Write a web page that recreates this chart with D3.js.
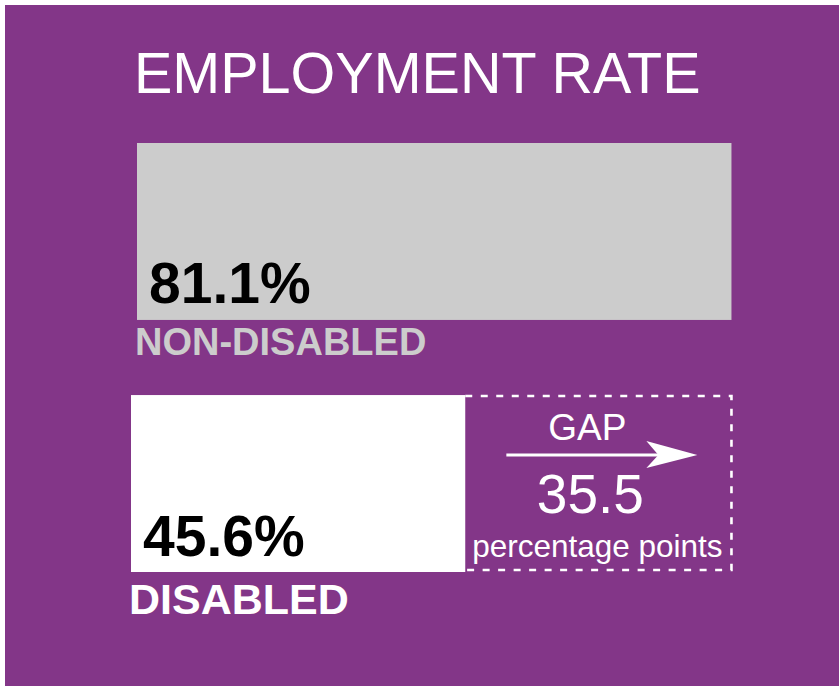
<!DOCTYPE html>
<html>
<head>
<meta charset="utf-8">
<script src="https://cdn.jsdelivr.net/npm/d3@7"></script>
<style>
  body { margin: 0; background: #fff; }
  svg { display: block; font-family: "Liberation Sans", Arial, sans-serif; }
</style>
</head>
<body>
<svg id="chart" width="839" height="686"></svg>
<script>
// data
var categories = ["NON-DISABLED", "DISABLED"];
var rates = [81.1, 45.6];
var title = "EMPLOYMENT RATE";
var gapLabel = "GAP";
var gapUnit = "percentage points";

var purple = "#833688";
var barColors = ["#cccccc", "#ffffff"];
var labelColors = ["#cccccc", "#ffffff"];
var rowStart = [137, 131];
var catSize = [38, 43];

var svg = d3.select("#chart");

// background panel
svg.append("rect")
  .attr("x", 5).attr("y", 5)
  .attr("width", 834).attr("height", 681)
  .attr("fill", purple);

svg.append("text")
  .attr("x", 134).attr("y", 93)
  .attr("fill", "#fff")
  .attr("font-size", 57.5)
  .text(title);

var x = d3.scaleLinear().domain([0, 100]).range([0, 733]);
var y = d3.scaleBand().domain(categories).range([143, 572]).paddingInner(0.298);

var rows = svg.selectAll("g.row")
  .data(categories)
  .enter().append("g")
  .attr("class", "row");

rows.append("rect")
  .attr("x", function(d, i) { return rowStart[i]; })
  .attr("y", function(d) { return y(d); })
  .attr("width", function(d, i) { return x(rates[i]); })
  .attr("height", y.bandwidth())
  .attr("fill", function(d, i) { return barColors[i]; });

rows.append("text")
  .attr("x", function(d, i) { return rowStart[i] + 12; })
  .attr("y", function(d, i) { return y(d) + y.bandwidth() - (i == 0 ? 17 : 16); })
  .attr("font-size", 57)
  .attr("font-weight", "bold")
  .attr("fill", "#000")
  .text(function(d, i) { return rates[i].toFixed(1) + "%"; });

rows.append("text")
  .attr("x", function(d, i) { return rowStart[i] - 2; })
  .attr("y", function(d, i) { return y(d) + y.bandwidth() + (i == 0 ? 35 : 42); })
  .attr("font-size", function(d, i) { return catSize[i]; })
  .attr("font-weight", "bold")
  .attr("fill", function(d, i) { return labelColors[i]; })
  .text(function(d) { return d; });

// gap box between the two bar ends
var gapLeft = rowStart[1] + x(rates[1]);
var gapRight = rowStart[0] + x(rates[0]);
var gapTop = y(categories[1]) + 1;
var gapBottom = y(categories[1]) + y.bandwidth() - 2;
var mid = (gapLeft + gapRight) / 2;

svg.append("path")
  .attr("d", "M" + gapLeft + "," + gapTop + "H" + gapRight + "V" + gapBottom + "H" + gapLeft)
  .attr("fill", "none")
  .attr("stroke", "#fff")
  .attr("stroke-width", 2.6)
  .attr("stroke-dasharray", "7,8.5");

svg.append("text")
  .attr("x", mid - 11).attr("y", gapTop + 44)
  .attr("text-anchor", "middle")
  .attr("fill", "#fff")
  .attr("font-size", 37)
  .text(gapLabel);

// arrow
var ay = gapTop + 59;
svg.append("line")
  .attr("x1", mid - 92).attr("x2", mid + 62)
  .attr("y1", ay).attr("y2", ay)
  .attr("stroke", "#fff")
  .attr("stroke-width", 3);

svg.append("path")
  .attr("d", "M" + (mid + 99) + "," + ay +
    "L" + (mid + 48) + "," + (ay - 14) +
    "L" + (mid + 60) + "," + ay +
    "L" + (mid + 48) + "," + (ay + 13) + "Z")
  .attr("fill", "#fff");

svg.append("text")
  .attr("x", mid - 8).attr("y", gapTop + 117)
  .attr("text-anchor", "middle")
  .attr("fill", "#fff")
  .attr("font-size", 55)
  .text(d3.format(".1f")(rates[0] - rates[1]));

svg.append("text")
  .attr("x", mid - 1).attr("y", gapTop + 161)
  .attr("text-anchor", "middle")
  .attr("fill", "#fff")
  .attr("font-size", 31.5)
  .text(gapUnit);
</script>
</body>
</html>
